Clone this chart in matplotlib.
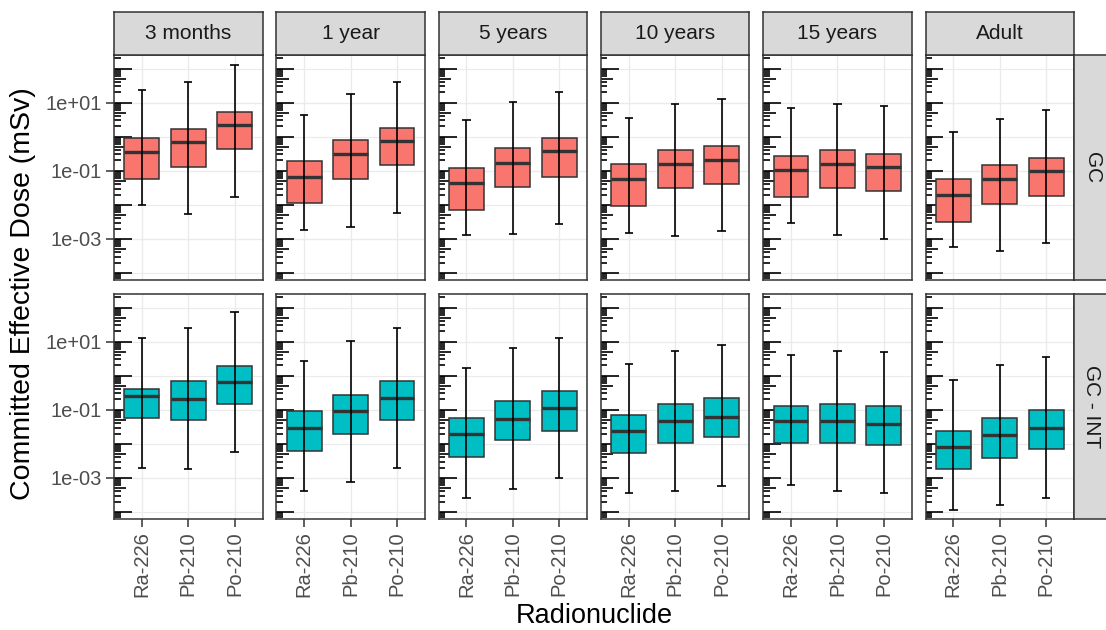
import numpy as np
import matplotlib.pyplot as plt
from matplotlib.ticker import NullFormatter

plt.rcParams['font.family'] = ['Liberation Sans', 'DejaVu Sans']

ages = ["3 months", "1 year", "5 years", "10 years", "15 years", "Adult"]
nuclides = ["Ra-226", "Pb-210", "Po-210"]
groups = ["GC", "GC - INT"]
fills = ["#F8766D", "#00BFC4"]

# boxplot summaries in mSv: one row per age group, columns Ra-226, Pb-210, Po-210
gc_low = [[0.0098, 0.0054, 0.0174],
          [0.00178, 0.00224, 0.0059],
          [0.00126, 0.00138, 0.0027],
          [0.0015, 0.00123, 0.00166],
          [0.00295, 0.00126, 0.001],
          [0.00056, 0.00043, 0.00076]]
gc_q1 = [[0.056, 0.13, 0.43],
         [0.0115, 0.056, 0.148],
         [0.0071, 0.034, 0.066],
         [0.0095, 0.031, 0.041],
         [0.0174, 0.031, 0.025],
         [0.0032, 0.0105, 0.018]]
gc_med = [[0.35, 0.68, 2.14],
          [0.065, 0.30, 0.74],
          [0.044, 0.174, 0.37],
          [0.0575, 0.155, 0.204],
          [0.105, 0.158, 0.129],
          [0.020, 0.059, 0.095]]
gc_q3 = [[0.93, 1.66, 5.37],
         [0.195, 0.78, 1.82],
         [0.12, 0.47, 0.91],
         [0.162, 0.40, 0.525],
         [0.28, 0.40, 0.32],
         [0.056, 0.148, 0.24]]
gc_high = [[23.4, 41.7, 126.0],
           [4.47, 17.8, 41.7],
           [3.0, 10.5, 20.9],
           [3.63, 8.9, 12.9],
           [7.2, 8.9, 7.9],
           [1.41, 3.3, 5.9]]

int_low = [[0.002, 0.00178, 0.0058],
           [0.00042, 0.00074, 0.002],
           [0.00026, 0.00047, 0.001],
           [0.00035, 0.00042, 0.00056],
           [0.00062, 0.00042, 0.00035],
           [0.000117, 0.000158, 0.00025]]
int_q1 = [[0.056, 0.05, 0.145],
          [0.0063, 0.02, 0.05],
          [0.004, 0.0126, 0.0245],
          [0.0052, 0.0102, 0.0155],
          [0.0102, 0.0102, 0.0093],
          [0.00178, 0.0039, 0.0069]]
int_med = [[0.257, 0.204, 0.66],
           [0.0295, 0.093, 0.224],
           [0.0195, 0.054, 0.115],
           [0.024, 0.048, 0.063],
           [0.048, 0.048, 0.039],
           [0.0083, 0.0178, 0.0295]]
int_q3 = [[0.417, 0.69, 1.95],
          [0.089, 0.28, 0.69],
          [0.056, 0.178, 0.355],
          [0.072, 0.145, 0.214],
          [0.132, 0.145, 0.132],
          [0.0245, 0.056, 0.1]]
int_high = [[12.9, 25.1, 72.4],
            [2.69, 10.5, 25.1],
            [1.7, 6.5, 12.9],
            [2.24, 5.4, 7.9],
            [4.0, 5.4, 4.9],
            [0.76, 2.0, 3.63]]

stats = [(gc_low, gc_q1, gc_med, gc_q3, gc_high),
         (int_low, int_q1, int_med, int_q3, int_high)]

W, H = 1106, 630
fig = plt.figure(figsize=(W / 100, H / 100), dpi=100)

# panel grid in pixels
left0, step, pw = 114, 162.3, 148.5
row_tops = [55, 294]
ph = 225
strip_top = 12.3
strip_w = 36

ylim = (10 ** -4.21, 10 ** 2.40)
dark = "#333333"


def px_axes(x, y, w, h):
    return fig.add_axes([x / W, 1 - (y + h) / H, w / W, h / H])


def logticks(ax):
    # annotation_logticks style marks along the left edge
    trans = ax.get_yaxis_transform()
    for e in range(-5, 4):
        for k in range(1, 10):
            v = k * 10.0 ** e
            if not (ylim[0] <= v <= ylim[1]):
                continue
            ln = 0.121 if k == 1 else (0.084 if k == 5 else 0.044)
            ax.plot([0, ln], [v, v], transform=trans, color="black",
                    lw=1.2, solid_capstyle="butt", zorder=1.5, clip_on=False)


def strip(x, y, w, h, label, rot):
    st = px_axes(x, y, w, h)
    st.set_facecolor("#D9D9D9")
    st.set_xticks([])
    st.set_yticks([])
    for s in st.spines.values():
        s.set_color(dark)
        s.set_linewidth(1.1)
    st.text(0.5, 0.5, label, ha="center", va="center", rotation=rot,
            fontsize=15, color="#1A1A1A", transform=st.transAxes)


for r in range(2):
    low, q1, med, q3, high = stats[r]
    for c in range(6):
        x0 = left0 + c * step
        ax = px_axes(x0, row_tops[r], pw, ph)
        ax.set_yscale("log")
        ax.set_ylim(*ylim)
        ax.set_xlim(0.4, 3.6)

        box_stats = []
        for i in range(3):
            box_stats.append(dict(med=med[c][i], q1=q1[c][i], q3=q3[c][i],
                                  whislo=low[c][i], whishi=high[c][i]))
        pos = [1, 2, 3]
        ax.bxp(box_stats, positions=pos, widths=0.75, patch_artist=True,
               showfliers=False, showcaps=False,
               boxprops=dict(facecolor=fills[r], edgecolor=dark, linewidth=1.1),
               medianprops=dict(color=dark, linewidth=2.4),
               whiskerprops=dict(linestyle="none"), zorder=2)
        # error bars drawn over the boxes
        lows = [low[c][i] for i in range(3)]
        highs = [high[c][i] for i in range(3)]
        ax.vlines(pos, lows, highs, color="black", lw=1.2, zorder=3)
        for p, lo, hi in zip(pos, lows, highs):
            ax.hlines([lo, hi], p - 0.09, p + 0.09, color="black", lw=1.2, zorder=3)

        # grid at every decade, labels only on the odd ones
        ax.set_yticks([1e-3, 1e-1, 1e1])
        ax.set_yticks([1e-4, 1e-2, 1e0, 1e2], minor=True)
        ax.yaxis.set_minor_formatter(NullFormatter())
        ax.set_xticks(pos)
        ax.grid(True, which="major", color="#EBEBEB", lw=1.0, zorder=0)
        ax.grid(True, which="minor", axis="y", color="#EBEBEB", lw=0.8, zorder=0)
        ax.set_axisbelow(True)
        ax.tick_params(which="minor", length=0)
        ax.tick_params(which="major", color=dark, width=1.1, length=5.5,
                       labelcolor="#4D4D4D", labelsize=14.5)
        for s in ax.spines.values():
            s.set_color(dark)
            s.set_linewidth(1.1)

        if c == 0:
            ax.set_yticklabels(["1e-03", "1e-01", "1e+01"])
        else:
            ax.tick_params(axis="y", left=False, labelleft=False)
        if r == 1:
            ax.set_xticklabels(nuclides, rotation=90)
        else:
            ax.tick_params(axis="x", bottom=False, labelbottom=False)

        logticks(ax)

        # facet strips
        if r == 0:
            strip(x0, strip_top, pw, row_tops[0] - strip_top, ages[c], 0)
        if c == 5:
            strip(x0 + pw, row_tops[r], strip_w, ph, groups[r], -90)

fig.text(23 / W, 1 - 294 / H, "Committed Effective Dose (mSv)", rotation=90,
         ha="center", va="center", fontsize=20.5, color="black")
fig.text(594 / W, 1 - 629 / H, "Radionuclide", ha="center", va="bottom",
         fontsize=19.5, color="black")

fig.savefig("out.png", dpi=100)
